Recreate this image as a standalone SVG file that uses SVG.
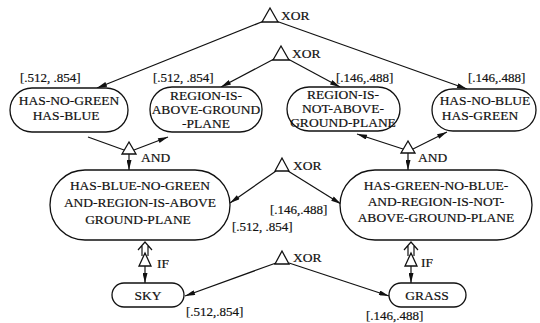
<svg xmlns="http://www.w3.org/2000/svg" width="540" height="323" viewBox="0 0 540 323">
<style>
text{font-family:"Liberation Serif","DejaVu Serif",serif;font-size:13.5px;fill:#111;stroke:#111;stroke-width:0.2}
.c{text-anchor:middle}
.lab{font-size:13px}
.box{fill:#fff;stroke:#111;stroke-width:1.3}
.tri{fill:#fff;stroke:#111;stroke-width:1.3}
.ln{stroke:#111;stroke-width:1.2;fill:none}
.arr{marker-end:url(#ah)}
</style>
<defs>
<marker id="ah" viewBox="0 0 12 6" refX="12" refY="3" markerWidth="11" markerHeight="5" markerUnits="userSpaceOnUse" orient="auto">
<path d="M0,0 L12,3 L0,6 z" fill="#111"/>
</marker>
</defs>
<rect width="540" height="323" fill="#fff"/>
<g id="connectors">
<line class="ln arr" x1="264" y1="21" x2="97" y2="88"/>
<line class="ln arr" x1="276" y1="21" x2="467" y2="89"/>
<line class="ln arr" x1="274" y1="59" x2="221" y2="87"/>
<line class="ln arr" x1="288" y1="59" x2="340" y2="87"/>
<line class="ln" x1="88" y1="137" x2="124" y2="150"/>
<line class="ln arr" x1="134" y1="150" x2="168" y2="137"/>
<line class="ln arr" x1="129" y1="154" x2="129" y2="170"/>
<line class="ln arr" x1="403" y1="149" x2="357" y2="134"/>
<line class="ln arr" x1="413" y1="149" x2="447" y2="132"/>
<line class="ln arr" x1="408" y1="153" x2="408" y2="170"/>
<line class="ln arr" x1="276" y1="171" x2="230" y2="203"/>
<line class="ln arr" x1="288" y1="171" x2="341" y2="204"/>
<line class="ln arr" x1="145" y1="266" x2="145" y2="283"/>
<line class="ln arr" x1="411" y1="266" x2="411" y2="283"/>
<line class="ln arr" x1="276" y1="263" x2="185" y2="296"/>
<line class="ln arr" x1="289" y1="263" x2="389" y2="296"/>
<path class="ln" d="M138,250 L145,242 L152,250 M142,246 V256 M148,246 V256"/>
<path class="ln" d="M404,250 L411,242 L418,250 M408,246 V256 M414,246 V256"/>
</g>
<g id="xor-top"><polygon class="tri" points="270,8 262,22 278,22"/><text x="281" y="20">XOR</text></g>
<g id="xor-2"><polygon class="tri" points="281,46 273,60 289,60"/><text x="292" y="58">XOR</text></g>
<g id="has-no-green">
<rect class="box" x="10" y="88" width="118" height="44" rx="22"/>
<text class="c" x="69" y="105">HAS-NO-GREEN</text>
<text class="c" x="66" y="120">HAS-BLUE</text>
<text class="lab" x="20" y="82">[.512, .854]</text>
</g>
<g id="region-above">
<rect class="box" x="150" y="87" width="112" height="45" rx="22"/>
<text class="c" x="206" y="100">REGION-IS-</text>
<text class="c" x="206" y="114">ABOVE-GROUND</text>
<text class="c" x="206" y="128">-PLANE</text>
<text class="lab" x="153" y="82">[.512, .854]</text>
</g>
<g id="region-not-above">
<rect class="box" x="287" y="87" width="113" height="44" rx="22"/>
<text class="c" x="343" y="99">REGION-IS-</text>
<text class="c" x="343" y="113">NOT-ABOVE-</text>
<text class="c" x="343" y="127">GROUND-PLANE</text>
<text class="lab" x="336" y="82">[.146,.488]</text>
</g>
<g id="has-no-blue">
<rect class="box" x="432" y="89" width="104" height="42" rx="21"/>
<text class="c" x="485" y="105">HAS-NO-BLUE</text>
<text class="c" x="480" y="120">HAS-GREEN</text>
<text class="lab" x="468" y="82">[.146,.488]</text>
</g>
<g id="and-left"><polygon class="tri" points="129,142 122,154 136,154"/><text x="141" y="162">AND</text></g>
<g id="and-right"><polygon class="tri" points="408,141 401,153 415,153"/><text x="418" y="162">AND</text></g>
<g id="xor-mid"><polygon class="tri" points="282,158 275,171 289,171"/><text x="293" y="170">XOR</text></g>
<g id="blue-sky-rule">
<rect class="box" x="50" y="170" width="180" height="70" rx="35"/>
<text class="c" x="140" y="190">HAS-BLUE-NO-GREEN</text>
<text class="c" x="140" y="207">AND-REGION-IS-ABOVE</text>
<text class="c" x="138" y="224">GROUND-PLANE</text>
<text class="lab" x="232" y="231">[.512, .854]</text>
</g>
<g id="green-grass-rule">
<rect class="box" x="340" y="170" width="192" height="70" rx="35"/>
<text class="c" x="436" y="190">HAS-GREEN-NO-BLUE-</text>
<text class="c" x="436" y="206">AND-REGION-IS-NOT-</text>
<text class="c" x="436" y="222">ABOVE-GROUND-PLANE</text>
<text class="lab" x="270" y="214">[.146,.488]</text>
</g>
<g id="if-left"><polygon class="tri" points="145,253 139,266 151,266"/><text x="157" y="268">IF</text></g>
<g id="if-right"><polygon class="tri" points="411,253 405,266 417,266"/><text x="421" y="267">IF</text></g>
<g id="xor-bottom"><polygon class="tri" points="282,251 275,264 289,264"/><text x="293" y="262">XOR</text></g>
<g id="sky">
<rect class="box" x="112" y="283" width="72" height="24" rx="12"/>
<text class="c" x="148" y="300">SKY</text>
<text class="lab" x="186" y="316">[.512,.854]</text>
</g>
<g id="grass">
<rect class="box" x="389" y="283" width="77" height="24" rx="12"/>
<text class="c" x="427" y="300">GRASS</text>
<text class="lab" x="366" y="320">[.146,.488]</text>
</g>
</svg>
